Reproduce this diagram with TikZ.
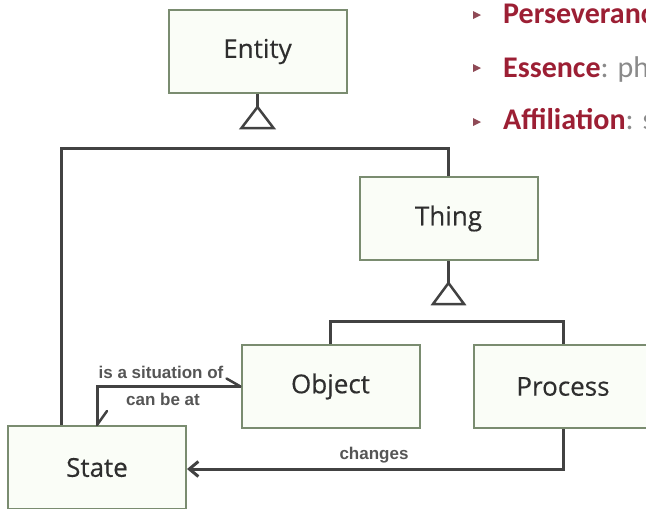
\documentclass[tikz,border=0pt]{standalone}
\usepackage{fontspec}
\setmainfont{Open Sans}
\newfontfamily\boxfont{Open Sans}[FakeBold=0.35]
\newfontfamily\labelfont{Liberation Sans}
\newfontfamily\slidefont{Carlito}
\usetikzlibrary{arrows.meta,calc}
\definecolor{boxline}{HTML}{7A8C70}
\definecolor{boxfill}{HTML}{FAFDF7}
\definecolor{linkgray}{HTML}{424242}
\definecolor{textgray}{HTML}{2E2E2E}
\definecolor{slidered}{HTML}{9C1F34}
\definecolor{slidegray}{HTML}{8A8A8A}

\begin{document}
\begin{tikzpicture}[x=1pt,y=-1pt,
  thingbox/.style={draw=boxline,fill=boxfill,line width=2pt,
    minimum width=178pt,minimum height=83pt,inner sep=0pt,
    font=\boxfont\fontsize{26}{30}\selectfont,text=textgray},
  link/.style={draw=linkgray,line width=3pt},
  harpoon/.style={draw=linkgray,line width=2.5pt,line cap=round},
  linklabel/.style={font=\labelfont\bfseries\fontsize{17}{19}\selectfont,
    text=linkgray!90,inner sep=0pt},
  gentri/.style={draw=linkgray,fill=white,line width=2.5pt,line join=miter},
  slidetext/.style={anchor=base west,inner sep=0pt,text=slidered,
    font=\slidefont\bfseries\fontsize{30}{34}\selectfont},
  bullet/.style={fill=slidered!55!gray,draw=none},
]
\useasboundingbox (0,0) rectangle (646,509);
\clip (0,0) rectangle (646,509);

% connector corners
\coordinate (eJoin) at (61,148);
\coordinate (tJoin) at (448.5,321);

% links first, boxes drawn on top
\draw[link] (61,430) -- (eJoin) -| (448.5,180);
\draw[link] (330.5,348) |- (tJoin) -| (563,348);

% things
\node[thingbox] (entity)  at (257.5,51.5)  {Entity};
\node[thingbox] (thing)   at (448.5,218.5) {Thing};
\node[thingbox] (object)  at (330.5,386.5) {Object};
\node[thingbox] (process) at (563,386.5)   {Process};
\node[thingbox] (state)   at (97,467.5)    {State};

% generalization: Entity
\draw[link] (entity.south) -- ++(0,13) coordinate (eApex);
\draw[link] ($(eApex)+(0,21)$) -- ($(eApex)+(0,21)$ |- eJoin);
\draw[gentri] (eApex) -- ++(-16,21) -- ++(32,0) -- cycle;

% generalization: Thing
\draw[link] (thing.south) -- ++(0,22) coordinate (tApex);
\draw[link] ($(tApex)+(0,21)$) -- ($(tApex)+(0,21)$ |- tJoin);
\draw[gentri] (tApex) -- ++(-15.5,21) -- ++(31,0) -- cycle;

% tagged structural link Object <-> State
\draw[link] (object.west) -| (state.north);
\draw[harpoon] (object.west) -- ++(-14,-8);
\draw[harpoon] (state.north) -- ++(10,-14);
\node[linklabel] (sitlabel) at (161,372) {is a situation of};
\node[linklabel] (atlabel)  at (163,399) {can be at};

% effect link Process -> State
\draw[link,-{Straight Barb[length=9pt,width=15pt]}] (process.south) |- ($(state.east)+(0,1.5)$);
\node[linklabel] (chlabel) at (374,455) {changes};

% slide text
\fill[bullet] (473,11) -- (481,15) -- (473,19) -- cycle;
\fill[bullet] (473,64) -- (481,68) -- (473,72) -- cycle;
\fill[bullet] (473,118) -- (481,122) -- (473,126) -- cycle;
\node[slidetext] (pers) at (503,23) {Perseveranc};
\node[slidetext] (ess)  at (503,77) {Essence\textcolor{slidegray}{\mdseries: ph}};
\node[slidetext] (aff)  at (503,129) {Affiliation\textcolor{slidegray}{\mdseries: s}};
\end{tikzpicture}
\end{document}
